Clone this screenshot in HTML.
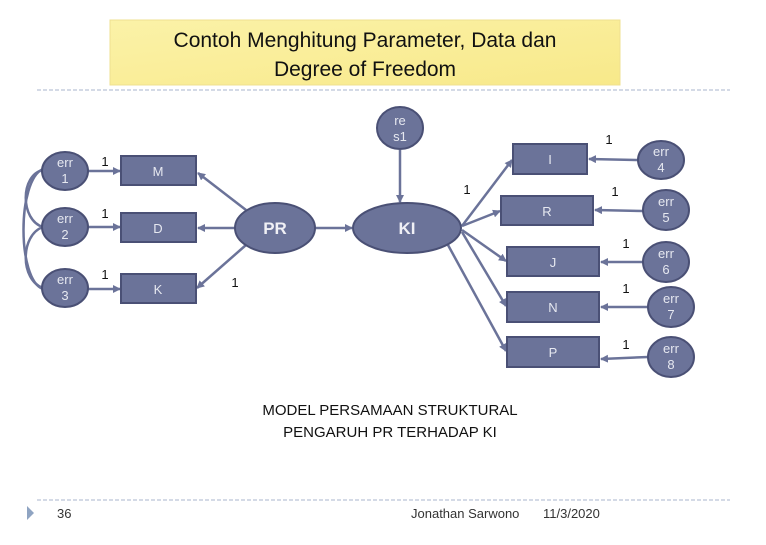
<!DOCTYPE html>
<html><head><meta charset="utf-8"><style>
body{margin:0;width:766px;height:540px;background:#fff;overflow:hidden;font-family:"Liberation Sans",sans-serif}
</style></head><body>
<svg width="766" height="540" viewBox="0 0 766 540" xmlns="http://www.w3.org/2000/svg" font-family="Liberation Sans, sans-serif">
<defs>
<linearGradient id="yg" x1="0" y1="0" x2="1" y2="1"><stop offset="0" stop-color="#fbf2a8"/><stop offset="1" stop-color="#f8e98a"/></linearGradient>
<marker id="a" markerWidth="8" markerHeight="8" refX="7" refY="4" orient="auto" markerUnits="userSpaceOnUse"><path d="M0,0 L8,4 L0,8 Z" fill="#6b7399"/></marker>
</defs>
<rect x="110" y="20" width="510" height="65" fill="url(#yg)" stroke="#efe090"/>
<text x="365" y="47" font-size="21" text-anchor="middle" fill="#111">Contoh Menghitung Parameter, Data dan</text>
<text x="365" y="76" font-size="21" text-anchor="middle" fill="#111">Degree of Freedom</text>
<line x1="37" y1="90" x2="730" y2="90" stroke="#a8b4cc" stroke-dasharray="4,2"/>
<line x1="37" y1="500" x2="730" y2="500" stroke="#a8b4cc" stroke-dasharray="4,2"/>
<path d="M27,506 L34,513 L27,520 Z" fill="#8fa4c2"/>
<text x="57" y="518" font-size="13" fill="#333">36</text>
<text x="411" y="518" font-size="13" fill="#333">Jonathan Sarwono</text>
<text x="543" y="518" font-size="13" fill="#333">11/3/2020</text>

<g stroke="#6b7399" stroke-width="2.5" fill="none">
<path d="M43,170 C20,175 20,220 43,227"/>
<path d="M43,227 C20,235 20,280 43,288"/>
<path d="M43,169 C17,180 17,280 43,289"/>
<line x1="88" y1="171" x2="120" y2="171" marker-end="url(#a)"/>
<line x1="88" y1="227" x2="120" y2="227" marker-end="url(#a)"/>
<line x1="88" y1="289" x2="120" y2="289" marker-end="url(#a)"/>
<line x1="246" y1="210" x2="198" y2="173" marker-end="url(#a)"/>
<line x1="235" y1="228" x2="198" y2="228" marker-end="url(#a)"/>
<line x1="246" y1="245" x2="197" y2="288" marker-end="url(#a)"/>
<line x1="315" y1="228" x2="352" y2="228" marker-end="url(#a)"/>
<line x1="400" y1="150" x2="400" y2="202" marker-end="url(#a)"/>
<line x1="462" y1="226" x2="512" y2="160" marker-end="url(#a)"/>
<line x1="462" y1="226" x2="500" y2="211" marker-end="url(#a)"/>
<line x1="462" y1="230" x2="506" y2="261" marker-end="url(#a)"/>
<line x1="462" y1="232" x2="506" y2="306" marker-end="url(#a)"/>
<line x1="448" y1="245" x2="506" y2="351" marker-end="url(#a)"/>
<line x1="638" y1="160" x2="589" y2="159" marker-end="url(#a)"/>
<line x1="643" y1="211" x2="595" y2="210" marker-end="url(#a)"/>
<line x1="643" y1="262" x2="601" y2="262" marker-end="url(#a)"/>
<line x1="648" y1="307" x2="601" y2="307" marker-end="url(#a)"/>
<line x1="648" y1="357" x2="601" y2="359" marker-end="url(#a)"/>
</g>

<g fill="#6b7399" stroke="#4a5075" stroke-width="2">
<ellipse cx="65" cy="171" rx="23" ry="19"/>
<ellipse cx="65" cy="227" rx="23" ry="19"/>
<ellipse cx="65" cy="288" rx="23" ry="19"/>
<rect x="121" y="156" width="75" height="29"/>
<rect x="121" y="213" width="75" height="29"/>
<rect x="121" y="274" width="75" height="29"/>
<ellipse cx="275" cy="228" rx="40" ry="25"/>
<ellipse cx="407" cy="228" rx="54" ry="25"/>
<ellipse cx="400" cy="128" rx="23" ry="21"/>
<rect x="513" y="144" width="74" height="30"/>
<rect x="501" y="196" width="92" height="29"/>
<rect x="507" y="247" width="92" height="29"/>
<rect x="507" y="292" width="92" height="30"/>
<rect x="507" y="337" width="92" height="30"/>
<ellipse cx="661" cy="160" rx="23" ry="19"/>
<ellipse cx="666" cy="210" rx="23" ry="20"/>
<ellipse cx="666" cy="262" rx="23" ry="20"/>
<ellipse cx="671" cy="307" rx="23" ry="20"/>
<ellipse cx="671" cy="357" rx="23" ry="20"/>
</g>

<g fill="#e6e8f0" font-size="13" text-anchor="middle">
<text x="65" y="167">err</text><text x="65" y="183">1</text>
<text x="65" y="223">err</text><text x="65" y="239">2</text>
<text x="65" y="284">err</text><text x="65" y="300">3</text>
<text x="158" y="176">M</text><text x="158" y="233">D</text><text x="158" y="294">K</text>
<text x="400" y="125">re</text><text x="400" y="141">s1</text>
<text x="550" y="164">I</text><text x="547" y="216">R</text><text x="553" y="267">J</text>
<text x="553" y="312">N</text><text x="553" y="357">P</text>
<text x="661" y="156">err</text><text x="661" y="172">4</text>
<text x="666" y="206">err</text><text x="666" y="222">5</text>
<text x="666" y="258">err</text><text x="666" y="274">6</text>
<text x="671" y="303">err</text><text x="671" y="319">7</text>
<text x="671" y="353">err</text><text x="671" y="369">8</text>
<text x="275" y="234" font-size="17" font-weight="bold" fill="#f0f0f5">PR</text>
<text x="407" y="234" font-size="17" font-weight="bold" fill="#f0f0f5">KI</text>
</g>
<g fill="#111" font-size="13" text-anchor="middle">
<text x="105" y="166">1</text><text x="105" y="218">1</text><text x="105" y="279">1</text>
<text x="235" y="287">1</text><text x="467" y="194">1</text>
<text x="609" y="144">1</text><text x="615" y="196">1</text><text x="626" y="248">1</text>
<text x="626" y="293">1</text><text x="626" y="349">1</text>
</g>
<text x="390" y="415" font-size="15" text-anchor="middle" fill="#111">MODEL PERSAMAAN STRUKTURAL</text>
<text x="390" y="437" font-size="15" text-anchor="middle" fill="#111">PENGARUH PR TERHADAP KI</text>
</svg>
</body></html>
